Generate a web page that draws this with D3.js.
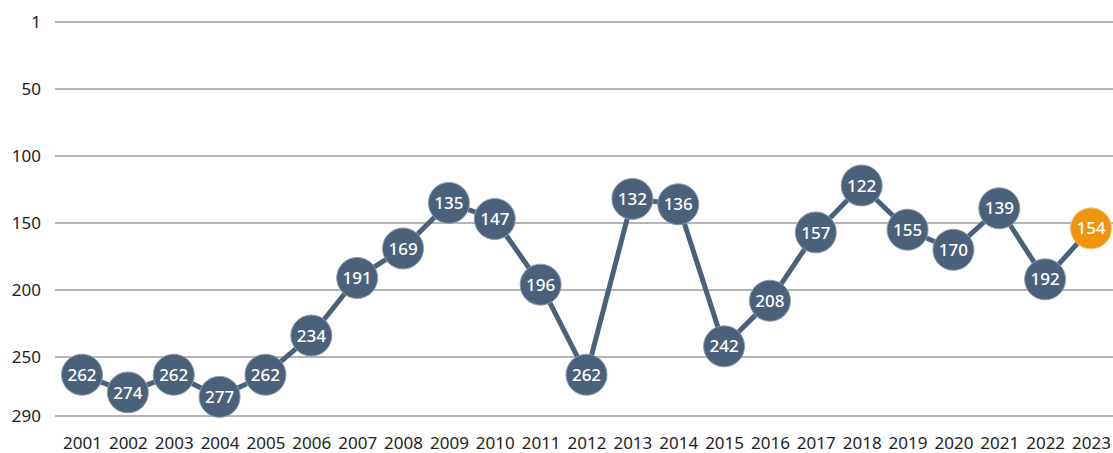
<!DOCTYPE html>
<html>
<head>
<meta charset="utf-8">
<script src="https://cdn.jsdelivr.net/npm/d3@7"></script>
<style>
  html, body { margin: 0; padding: 0; background: #ffffff; }
  svg { display: block; }
</style>
</head>
<body>
<svg id="chart" width="1113" height="453"></svg>
<script>
const years = ["2001","2002","2003","2004","2005","2006","2007","2008","2009","2010","2011","2012","2013","2014","2015","2016","2017","2018","2019","2020","2021","2022","2023"];
const ranks = [262,274,262,277,262,234,191,169,135,147,196,262,132,136,242,208,157,122,155,170,139,192,154];
const yTicks = [1,50,100,150,200,250,290];

const svg = d3.select("#chart");
const W = 1113, H = 453;

const x = d3.scalePoint().domain(years).range([82, 1091]);
const y = d3.scaleLinear().domain(yTicks).range([22, 89, 156, 223, 290, 357, 416]);

const fontFam = "'Noto Sans', 'DejaVu Sans', sans-serif";

// gridlines
svg.append("g").selectAll("line").data(yTicks).join("line")
  .attr("x1", 55).attr("x2", W)
  .attr("y1", d => y(d)).attr("y2", d => y(d))
  .attr("stroke", "#6a6a6a").attr("stroke-width", 1);

// y axis labels
const yAxis = d3.axisLeft(y).tickValues(yTicks).tickSize(0).tickPadding(0);
const gy = svg.append("g").attr("transform", "translate(41,0)").call(yAxis);
gy.select(".domain").remove();
gy.selectAll("text").attr("font-family", fontFam).attr("font-size", 17).attr("fill", "#1e1e1e");

// x axis labels
const xAxis = d3.axisBottom(x).tickSize(0).tickPadding(0);
const gx = svg.append("g").attr("transform", "translate(0,437)").call(xAxis);
gx.select(".domain").remove();
gx.selectAll("text").attr("font-family", fontFam).attr("font-size", 17).attr("fill", "#1e1e1e");

// line
const line = d3.line().x((d, i) => x(years[i])).y(d => y(d));
svg.append("path").datum(ranks)
  .attr("d", line)
  .attr("fill", "none")
  .attr("stroke", "#4b6179")
  .attr("stroke-width", 5)
  .attr("stroke-linejoin", "round");

// circles
const nodes = svg.append("g").selectAll("g").data(ranks).join("g")
  .attr("transform", (d, i) => `translate(${x(years[i])},${y(d)})`);
nodes.append("circle")
  .attr("r", 20.5)
  .attr("fill", (d, i) => i === ranks.length - 1 ? "#f0940e" : "#4b6179")
  .attr("stroke", (d, i) => i === ranks.length - 1 ? "#f7c27a" : "#8d9db0")
  .attr("stroke-width", 1);
nodes.append("text")
  .text(d => d)
  .attr("text-anchor", "middle")
  .attr("dy", "0.36em")
  .attr("font-family", fontFam)
  .attr("font-size", 17)
  .attr("font-weight", 500)
  .attr("fill", "#ffffff");
</script>
</body>
</html>
